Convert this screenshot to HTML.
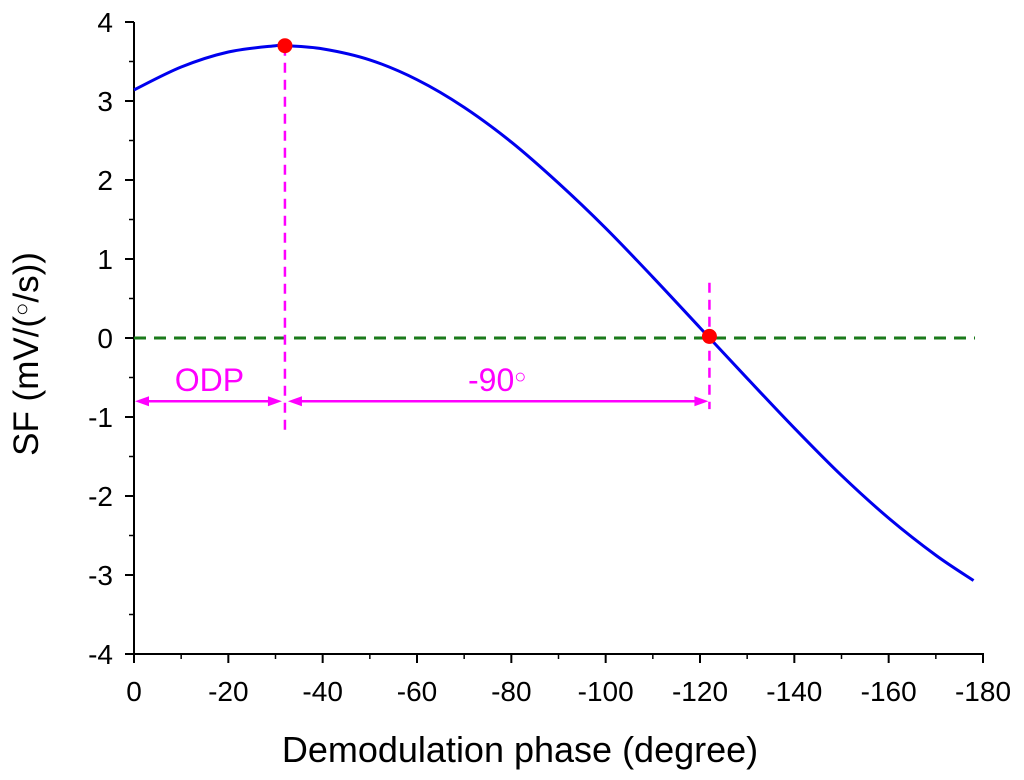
<!DOCTYPE html>
<html><head><meta charset="utf-8"><style>
body{margin:0;background:#fff;}
svg{display:block;font-family:"Liberation Sans",sans-serif;}
</style></head><body>
<svg id="chart" width="1024" height="780" viewBox="0 0 1024 780">
<g id="axes"></g>
<g id="plot"></g>
<text x="520" y="762" font-size="36" text-anchor="middle">Demodulation phase (degree)</text>
<text transform="translate(38,354) rotate(-90)" font-size="35" text-anchor="middle">SF (mV/(<tspan font-size="22" dy="-9">○</tspan><tspan dy="9">/s))</tspan></text>
</svg>
<script>
const phases=[0,-10,-20,-30,-32,-40,-50,-60,-70,-80,-90,-100,-110,-120,-130,-140,-150,-160,-170,-178];
const sfValues=[3.14,3.43,3.62,3.70,3.70,3.66,3.52,3.27,2.92,2.48,1.96,1.39,0.77,0.13,-0.51,-1.14,-1.74,-2.28,-2.75,-3.07];
const xTicks=[0,-20,-40,-60,-80,-100,-120,-140,-160,-180];
const yTicks=[-4,-3,-2,-1,0,1,2,3,4];
const markerPhases=[-32,-122];
const markerValues=[3.70,0.02];
const odpPhase=-32, zeroPhase=-122, arrowLevel=-0.8;

const NS="http://www.w3.org/2000/svg";
const X=v=>134+(v/-180)*849;
const Y=v=>338-v*79;
function mk(tag,attrs,parent){const e=document.createElementNS(NS,tag);for(const k in attrs)e.setAttribute(k,attrs[k]);parent.appendChild(e);return e;}
const axes=document.getElementById('axes'),plot=document.getElementById('plot');

let e=mk('line',{x1:134,y1:Y(4),x2:134,y2:Y(-4),stroke:'#000','stroke-width':2},axes);


e=mk('line',{x1:134,y1:Y(-4),x2:984,y2:Y(-4),stroke:'#000','stroke-width':2},axes);



xTicks.forEach((t,i)=>{
  let l=mk('line',{x1:X(t),y1:Y(-4),x2:X(t),y2:Y(-4)+9,stroke:'#000','stroke-width':2},axes);
  
  
  if(i<xTicks.length-1){let m=mk('line',{x1:X(t-10),y1:Y(-4),x2:X(t-10),y2:Y(-4)+5,stroke:'#000','stroke-width':1.5},axes);
  
  }
  let tx=mk('text',{x:X(t),y:Y(-4)+47,'font-size':28,'text-anchor':'middle'},axes);tx.textContent=t;
  
  
});
yTicks.forEach((t,i)=>{
  let l=mk('line',{x1:125,y1:Y(t),x2:134,y2:Y(t),stroke:'#000','stroke-width':2},axes);
  
  
  if(i<yTicks.length-1){let m=mk('line',{x1:129,y1:Y(t+0.5),x2:134,y2:Y(t+0.5),stroke:'#000','stroke-width':1.5},axes);
  
  }
  let tx=mk('text',{x:113,y:Y(t)+10,'font-size':28,'text-anchor':'end'},axes);tx.textContent=t;
  
  
});

e=mk('line',{x1:134,y1:Y(0),x2:975,y2:Y(0),stroke:'#1a7a1a','stroke-width':3,'stroke-dasharray':'12,8'},plot);



const P=phases.map((p,i)=>[X(p),Y(sfValues[i])]);
let d=`M${P[0][0]},${P[0][1]}`;
for(let i=0;i<P.length-1;i++){const p0=P[Math.max(0,i-1)],p1=P[i],p2=P[i+1],p3=P[Math.min(P.length-1,i+2)];
d+=` C${p1[0]+(p2[0]-p0[0])/6},${p1[1]+(p2[1]-p0[1])/6} ${p2[0]-(p3[0]-p1[0])/6},${p2[1]-(p3[1]-p1[1])/6} ${p2[0]},${p2[1]}`;}
e=mk('path',{d:d,fill:'none',stroke:'#0000ee','stroke-width':3},plot);



const mag='#ff00ff';
e=mk('line',{x1:X(odpPhase),y1:Y(3.7),x2:X(odpPhase),y2:Y(-1.2),stroke:mag,'stroke-width':2.5,'stroke-dasharray':'10,7'},plot);


e=mk('line',{x1:X(zeroPhase),y1:Y(0.7),x2:X(zeroPhase),y2:Y(-0.9),stroke:mag,'stroke-width':2.5,'stroke-dasharray':'10,7'},plot);


function arrow(x1,x2,name){
  const y=Y(arrowLevel);
  let g=mk('g',{},plot);
  
  
  mk('line',{x1:x1+10,y1:y,x2:x2-10,y2:y,stroke:mag,'stroke-width':2.5},g);
  mk('polygon',{points:`${x1+1},${y} ${x1+15},${y-5} ${x1+15},${y+5}`,fill:mag},g);
  mk('polygon',{points:`${x2-1},${y} ${x2-15},${y-5} ${x2-15},${y+5}`,fill:mag},g);
}
arrow(X(0),X(odpPhase)-2,'odp-arrow');
arrow(X(odpPhase)+2,X(zeroPhase),'ninety-degree-arrow');
e=mk('text',{x:(X(0)+X(odpPhase))/2,y:Y(arrowLevel)-10,'font-size':32,fill:mag,'text-anchor':'middle'},plot);e.textContent='ODP';


e=mk('text',{x:(X(odpPhase)+X(zeroPhase))/2,y:Y(arrowLevel)-10,'font-size':32,fill:mag,'text-anchor':'middle'},plot);
e.innerHTML='-90<tspan font-size="20" dy="-8">○</tspan>';



markerPhases.forEach((p,i)=>{
  let c=mk('circle',{cx:X(p),cy:Y(markerValues[i]),r:7.5,fill:'#ff0000'},plot);
  
  
});
</script>
</body></html>
